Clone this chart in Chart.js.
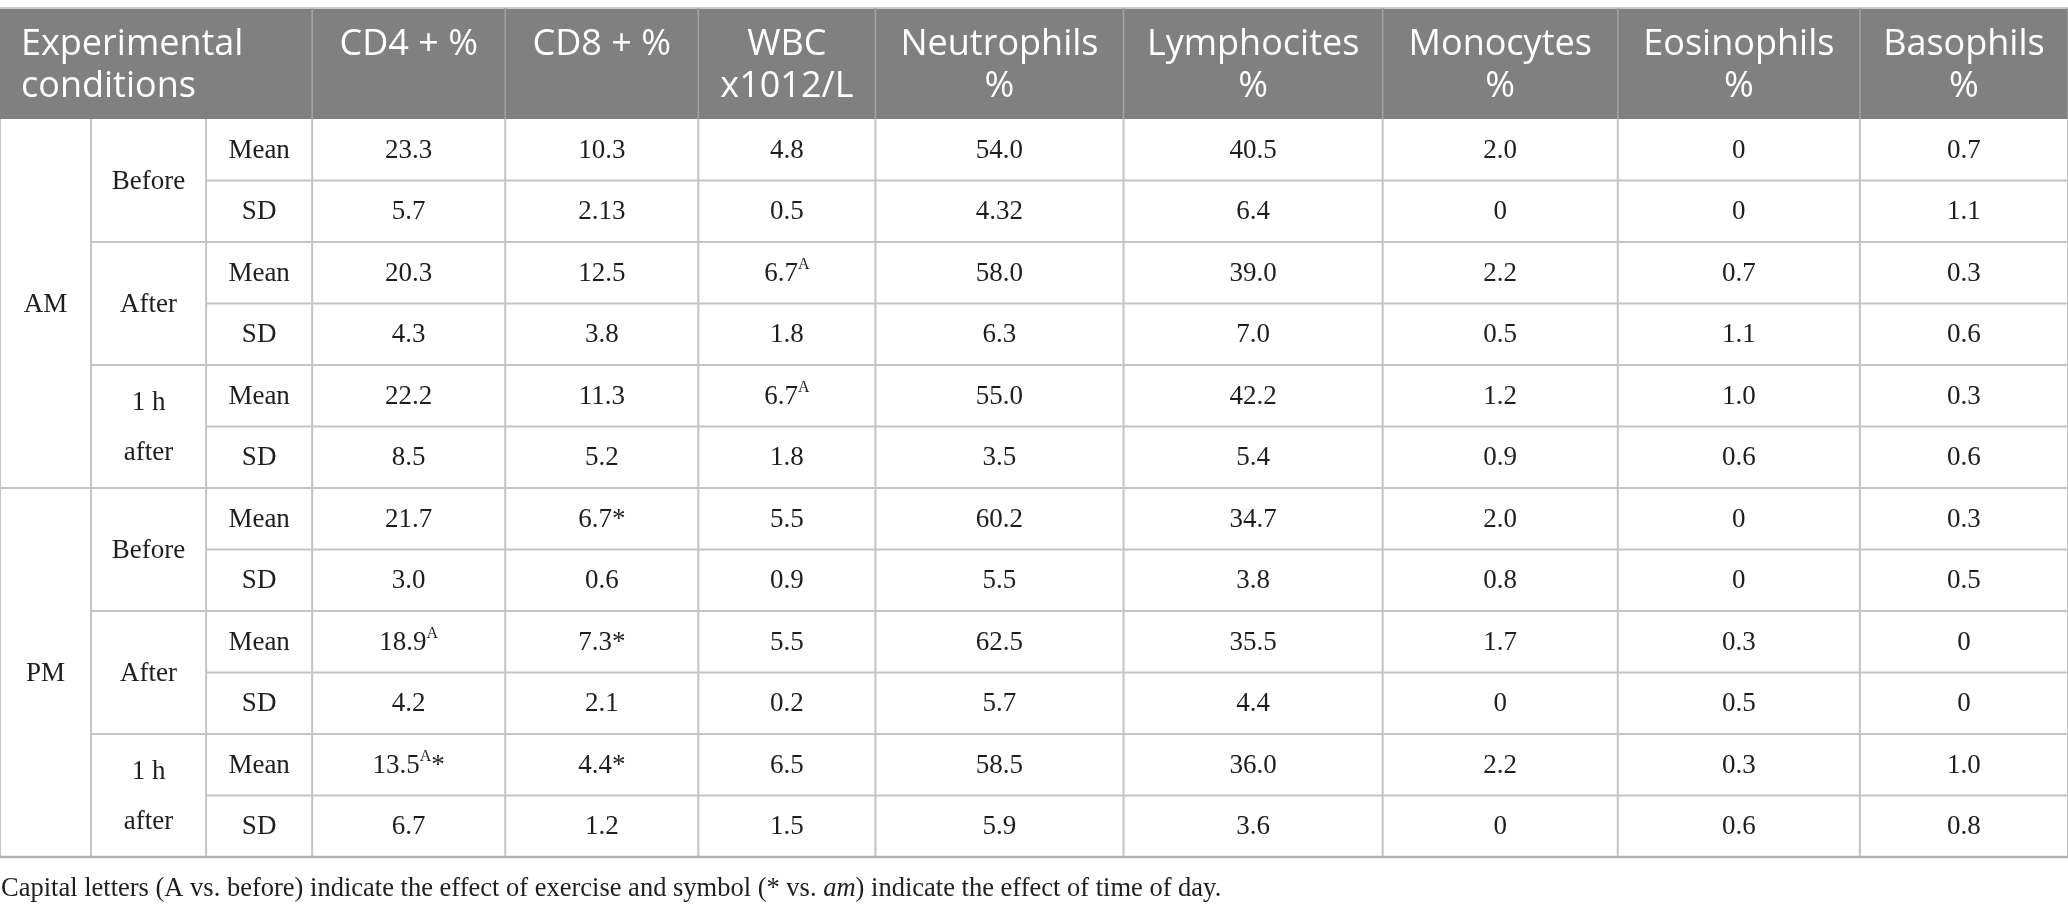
<!DOCTYPE html>
<html>
<head>
<meta charset="utf-8">
<script src="https://cdn.jsdelivr.net/npm/chart.js@4.4.1/dist/chart.umd.min.js"></script>
<style>
  html, body { margin: 0; padding: 0; background: #fff; }
  #wrap { width: 2068px; height: 916px; position: relative; }
</style>
</head>
<body>
<div id="wrap"><canvas id="tableChart"></canvas></div>
<script>
// row labels
var timeOfDay = ["AM", "PM"];
var phases = [["Before"], ["After"], ["1 h", "after"]];
var stats = ["Mean", "SD"];

// column headers (one entry per line)
var headers = [
    ["CD4 + %"], ["CD8 + %"], ["WBC", "x1012/L"], ["Neutrophils", "%"],
    ["Lymphocites", "%"], ["Monocytes", "%"], ["Eosinophils", "%"], ["Basophils", "%"]
];

// values, rows: AM before/after/1h after then PM, each Mean then SD ("^A" = superscript A)
var cd4 = ["23.3", "5.7", "20.3", "4.3", "22.2", "8.5", "21.7", "3.0", "18.9^A", "4.2", "13.5^A*", "6.7"];
var cd8 = ["10.3", "2.13", "12.5", "3.8", "11.3", "5.2", "6.7*", "0.6", "7.3*", "2.1", "4.4*", "1.2"];
var wbc = ["4.8", "0.5", "6.7^A", "1.8", "6.7^A", "1.8", "5.5", "0.9", "5.5", "0.2", "6.5", "1.5"];
var neutrophils = ["54.0", "4.32", "58.0", "6.3", "55.0", "3.5", "60.2", "5.5", "62.5", "5.7", "58.5", "5.9"];
var lymphocites = ["40.5", "6.4", "39.0", "7.0", "42.2", "5.4", "34.7", "3.8", "35.5", "4.4", "36.0", "3.6"];
var monocytes = ["2.0", "0", "2.2", "0.5", "1.2", "0.9", "2.0", "0.8", "1.7", "0", "2.2", "0"];
var eosinophils = ["0", "0", "0.7", "1.1", "1.0", "0.6", "0", "0", "0.3", "0.5", "0.3", "0.6"];
var basophils = ["0.7", "1.1", "0.3", "0.6", "0.3", "0.6", "0.3", "0.5", "0", "0", "1.0", "0.8"];

var footnote = [
    ["Capital letters (A vs. before) indicate the effect of exercise and symbol (* vs. ", false],
    ["am", true],
    [") indicate the effect of time of day.", false]
];

var series = [cd4, cd8, wbc, neutrophils, lymphocites, monocytes, eosinophils, basophils];

// layout: widths of the 3 label columns + 8 value columns, in x-scale units
var colWidths = [91, 115, 106, 193, 193, 177, 248, 259, 235, 242, 208];
var colEdges = [0];
colWidths.forEach(function (w, i) { colEdges.push(colEdges[i] + w); });
var HEADER_ROWS = 1.805;
var nRows = timeOfDay.length * phases.length * stats.length;

var serif = '"Liberation Serif", "DejaVu Serif", serif';
var sans = '"Open Sans", "Noto Sans", sans-serif';

var datasets = series.map(function (vals, c) {
    var cx = (colEdges[c + 3] + colEdges[c + 4]) / 2;
    return {
        label: headers[c].join(" "),
        data: vals.map(function (v, r) { return { x: cx, y: r + 0.5 }; }),
        pointRadius: 0,
        showLine: false
    };
});

function drawValue(ctx, txt, x, y) {
    var parts = txt.split("^");
    var main = parts[0];
    var sup = "", tail = "";
    if (parts.length > 1) {
        sup = parts[1].replace("*", "");
        tail = parts[1].indexOf("*") >= 0 ? "*" : "";
    }
    ctx.font = "27px " + serif;
    var wMain = ctx.measureText(main).width;
    var wTail = ctx.measureText(tail).width;
    ctx.font = "16px " + serif;
    var wSup = ctx.measureText(sup).width;
    var total = wMain + wSup + wTail;
    var x0 = x - total / 2;
    ctx.textAlign = "left";
    ctx.font = "27px " + serif;
    ctx.fillText(main, x0, y);
    ctx.font = "16px " + serif;
    ctx.fillText(sup, x0 + wMain, y - 9);
    ctx.font = "27px " + serif;
    ctx.fillText(tail, x0 + wMain + wSup, y);
}

var tablePlugin = {
    id: "tablePlugin",
    afterDatasetsDraw: function (chart) {
        var ctx = chart.ctx;
        var xs = chart.scales.x, ys = chart.scales.y;
        var px = function (v) { return xs.getPixelForValue(v); };
        var py = function (v) { return ys.getPixelForValue(v); };
        var left = px(0), right = px(colEdges[colEdges.length - 1]);
        var top = py(-HEADER_ROWS), hb = py(0), bottom = py(nRows);

        ctx.save();
        // header band
        ctx.fillStyle = "#808080";
        ctx.fillRect(left, top, right - left, hb - top);
        ctx.strokeStyle = "#c9c9c9";
        ctx.lineWidth = 2;
        ctx.beginPath();
        ctx.moveTo(left, top); ctx.lineTo(right, top);
        ctx.stroke();
        ctx.strokeStyle = "#a3a3a3";
        ctx.lineWidth = 1.5;
        ctx.beginPath();
        for (var c = 3; c < colEdges.length; c++) {
            ctx.moveTo(px(colEdges[c]), top);
            ctx.lineTo(px(colEdges[c]), hb);
        }
        ctx.stroke();

        ctx.fillStyle = "#ffffff";
        ctx.font = "36px " + sans;
        ctx.textBaseline = "alphabetic";
        ctx.textAlign = "left";
        ctx.fillText("Experimental", left + 21, top + 47);
        ctx.fillText("conditions", left + 21, top + 89);
        ctx.textAlign = "center";
        headers.forEach(function (lines, i) {
            var cx = (px(colEdges[i + 3]) + px(colEdges[i + 4])) / 2;
            lines.forEach(function (ln, k) {
                ctx.fillText(ln, cx, top + 47 + k * 42);
            });
        });

        // body grid
        ctx.strokeStyle = "#c4c4c4";
        ctx.lineWidth = 2;
        ctx.beginPath();
        for (var e = 0; e < colEdges.length; e++) {
            ctx.moveTo(px(colEdges[e]), hb);
            ctx.lineTo(px(colEdges[e]), bottom);
        }
        for (var r = 1; r < nRows; r++) {
            var startCol = 2;
            if (r % (phases.length * stats.length) === 0) startCol = 0;
            else if (r % stats.length === 0) startCol = 1;
            ctx.moveTo(px(colEdges[startCol]), py(r));
            ctx.lineTo(right, py(r));
        }
        ctx.stroke();
        ctx.strokeStyle = "#b3b3b3";
        ctx.lineWidth = 2.5;
        ctx.beginPath();
        ctx.moveTo(left, bottom); ctx.lineTo(right, bottom);
        ctx.stroke();

        // row labels
        ctx.fillStyle = "#1e1e1e";
        ctx.textAlign = "center";
        ctx.textBaseline = "middle";
        ctx.font = "27px " + serif;
        var blk = phases.length * stats.length;
        timeOfDay.forEach(function (t, i) {
            ctx.fillText(t, (px(colEdges[0]) + px(colEdges[1])) / 2, py(i * blk + blk / 2) + 1);
            phases.forEach(function (lines, j) {
                var cy = py(i * blk + j * stats.length + stats.length / 2);
                var cx = (px(colEdges[1]) + px(colEdges[2])) / 2;
                lines.forEach(function (ln, k) {
                    ctx.fillText(ln, cx, cy + (k - (lines.length - 1) / 2) * 50 + 1);
                });
                stats.forEach(function (s, k) {
                    ctx.fillText(s, (px(colEdges[2]) + px(colEdges[3])) / 2,
                        py(i * blk + j * stats.length + k + 0.5) + 1);
                });
            });
        });

        // values, placed at the dataset points
        chart.data.datasets.forEach(function (ds, di) {
            var meta = chart.getDatasetMeta(di);
            meta.data.forEach(function (pt, ri) {
                drawValue(ctx, series[di][ri], pt.x, pt.y + 1);
            });
        });

        // footnote
        ctx.textAlign = "left";
        ctx.textBaseline = "alphabetic";
        var fx = left + 1, fy = bottom + 39;
        footnote.forEach(function (seg) {
            ctx.font = (seg[1] ? "italic " : "") + "26.5px " + serif;
            ctx.fillText(seg[0], fx, fy);
            fx += ctx.measureText(seg[0]).width;
        });
        ctx.restore();
    }
};

new Chart(document.getElementById("tableChart"), {
    type: "scatter",
    data: { datasets: datasets },
    options: {
        responsive: true,
        maintainAspectRatio: false,
        animation: false,
        events: [],
        layout: { padding: { top: 119, bottom: 59, left: 0, right: 0 } },
        scales: {
            x: { type: "linear", display: false, min: 0, max: colEdges[colEdges.length - 1] },
            y: { type: "linear", display: false, reverse: true, min: 0, max: nRows }
        },
        plugins: { legend: { display: false }, tooltip: { enabled: false } }
    },
    plugins: [tablePlugin]
});
</script>
</body>
</html>
